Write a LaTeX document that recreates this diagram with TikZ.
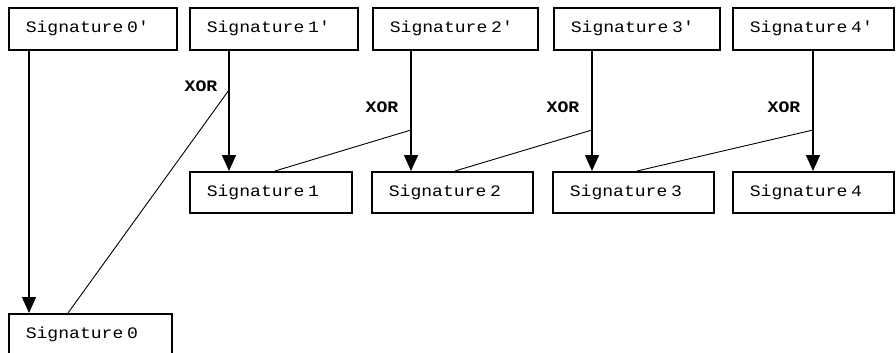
\documentclass[tikz,border=0pt]{standalone}
\usepackage{fontspec}
\usepackage{graphicx}
\usetikzlibrary{arrows.meta}
\newfontfamily\sigfont{Liberation Mono}
\newcommand{\sigtxt}[1]{\scalebox{1.13}[1]{\sigfont\fontsize{16}{16}\selectfont #1}}
\begin{document}
\begin{tikzpicture}[x=1pt,y=-1pt,
  box/.style={draw, line width=1.6pt, anchor=north west, minimum height=42pt,
              inner xsep=17pt, inner ysep=0pt, align=left},
  arr/.style={line width=1.5pt, -{Triangle[width=14pt,length=16pt]}},
  xorline/.style={line width=0.9pt},
  xorlabel/.style={inner sep=0pt}]
\clip (0,0) rectangle (896,353);
% top row
\node[box, minimum width=168pt, text width=134pt] (S0p) at (8,7)   {\sigtxt{Signature 0'}};
\node[box, minimum width=168pt, text width=134pt] (S1p) at (189,7) {\sigtxt{Signature 1'}};
\node[box, minimum width=165pt, text width=131pt] (S2p) at (372,7) {\sigtxt{Signature 2'}};
\node[box, minimum width=166pt, text width=132pt] (S3p) at (553,7) {\sigtxt{Signature 3'}};
\node[box, minimum width=161pt, text width=127pt] (S4p) at (732,7) {\sigtxt{Signature 4'}};
% middle row
\node[box, minimum width=162pt, text width=128pt, minimum height=41pt] (S1) at (189,171) {\sigtxt{Signature 1}};
\node[box, minimum width=161pt, text width=127pt, minimum height=41pt] (S2) at (371,171) {\sigtxt{Signature 2}};
\node[box, minimum width=161pt, text width=127pt, minimum height=41pt] (S3) at (552,171) {\sigtxt{Signature 3}};
\node[box, minimum width=161pt, text width=127pt, minimum height=41pt] (S4) at (732,171) {\sigtxt{Signature 4}};
% bottom
\node[box, minimum width=163pt, text width=129pt] (S0) at (8,313) {\sigtxt{Signature 0}};
% arrow x positions
\coordinate (a0) at (29,0);
\coordinate (a1) at (229,0);
\coordinate (a2) at (411,0);
\coordinate (a3) at (592,0);
\coordinate (a4) at (813,0);
% arrows
\draw[arr] (S0p.south -| a0) -- (S0.north -| a0);
\draw[arr] (S1p.south -| a1) -- (S1.north -| a1);
\draw[arr] (S2p.south -| a2) -- (S2.north -| a2);
\draw[arr] (S3p.south -| a3) -- (S3.north -| a3);
\draw[arr] (S4p.south -| a4) -- (S4.north -| a4);
% xor junctions
\coordinate (J1) at (229,90);
\coordinate (J2) at (411,130);
\coordinate (J3) at (592,130);
\coordinate (J4) at (813,130);
\coordinate (d0) at (68,0);
\coordinate (d1) at (275,0);
\coordinate (d2) at (455,0);
\coordinate (d3) at (637,0);
\draw[xorline] (J1) -- (S0.north -| d0);
\draw[xorline] (J2) -- (S1.north -| d1);
\draw[xorline] (J3) -- (S2.north -| d2);
\draw[xorline] (J4) -- (S3.north -| d3);
% labels
\node[xorlabel] (X1) at (201,86)  {\sigtxt{\bfseries XOR}};
\node[xorlabel] (X2) at (382,107) {\sigtxt{\bfseries XOR}};
\node[xorlabel] (X3) at (563,107) {\sigtxt{\bfseries XOR}};
\node[xorlabel] (X4) at (784,107) {\sigtxt{\bfseries XOR}};
\end{tikzpicture}
\end{document}
